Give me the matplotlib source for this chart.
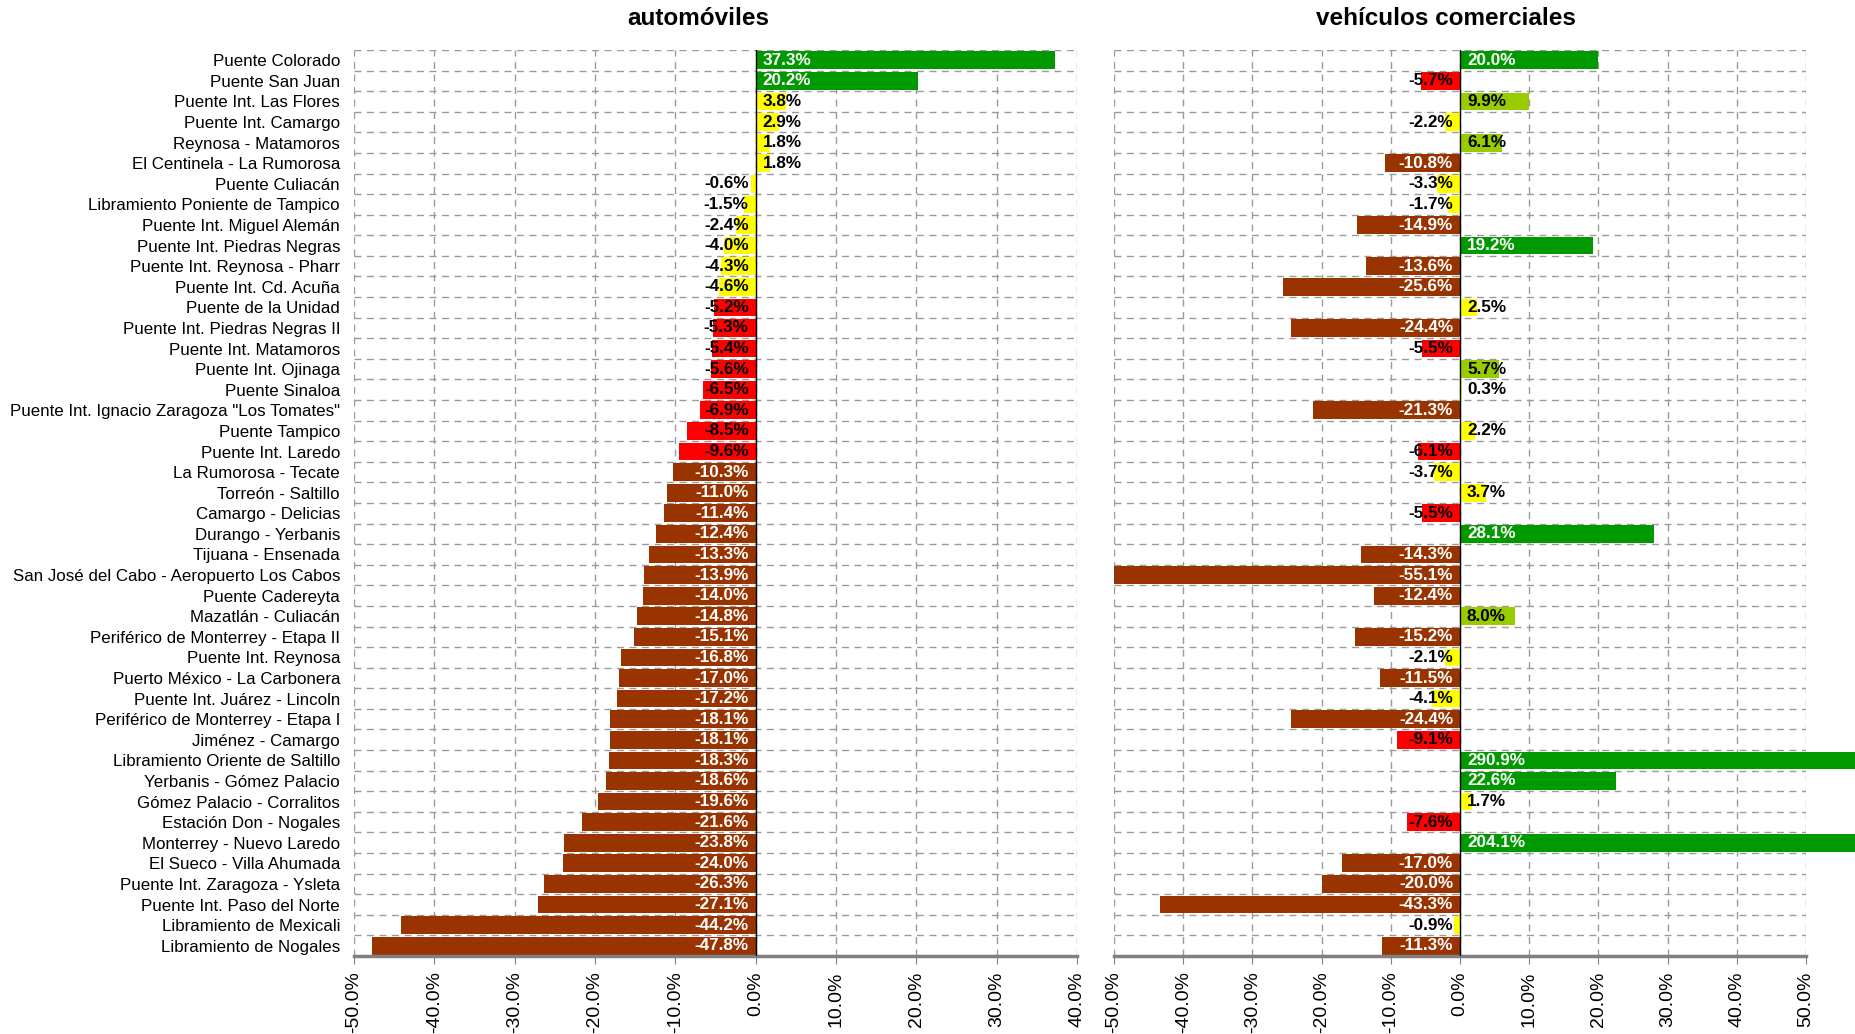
import matplotlib
matplotlib.use("Agg")
import matplotlib.pyplot as plt
from matplotlib.ticker import FixedLocator, FuncFormatter

plt.rcParams["font.family"] = ["Liberation Sans", "DejaVu Sans"]

# data: % change per plaza, top to bottom
plazas = [
    "Puente Colorado", "Puente San Juan", "Puente Int. Las Flores", "Puente Int. Camargo",
    "Reynosa - Matamoros", "El Centinela - La Rumorosa", "Puente Culiacán",
    "Libramiento Poniente de Tampico", "Puente Int. Miguel Alemán", "Puente Int. Piedras Negras",
    "Puente Int. Reynosa - Pharr", "Puente Int. Cd. Acuña", "Puente de la Unidad",
    "Puente Int. Piedras Negras II", "Puente Int. Matamoros", "Puente Int. Ojinaga",
    "Puente Sinaloa", "Puente Int. Ignacio Zaragoza \"Los Tomates\"", "Puente Tampico",
    "Puente Int. Laredo", "La Rumorosa - Tecate", "Torreón - Saltillo", "Camargo - Delicias",
    "Durango - Yerbanis", "Tijuana - Ensenada", "San José del Cabo - Aeropuerto Los Cabos",
    "Puente Cadereyta", "Mazatlán - Culiacán", "Periférico de Monterrey - Etapa II",
    "Puente Int. Reynosa", "Puerto México - La Carbonera", "Puente Int. Juárez - Lincoln",
    "Periférico de Monterrey - Etapa I", "Jiménez - Camargo", "Libramiento Oriente de Saltillo",
    "Yerbanis - Gómez Palacio", "Gómez Palacio - Corralitos", "Estación Don - Nogales",
    "Monterrey - Nuevo Laredo", "El Sueco - Villa Ahumada", "Puente Int. Zaragoza - Ysleta",
    "Puente Int. Paso del Norte", "Libramiento de Mexicali", "Libramiento de Nogales",
]
automoviles = [
    37.3, 20.2, 3.8, 2.9, 1.8, 1.8, -0.6, -1.5, -2.4, -4.0, -4.3, -4.6, -5.2, -5.3, -5.4,
    -5.6, -6.5, -6.9, -8.5, -9.6, -10.3, -11.0, -11.4, -12.4, -13.3, -13.9, -14.0, -14.8,
    -15.1, -16.8, -17.0, -17.2, -18.1, -18.1, -18.3, -18.6, -19.6, -21.6, -23.8, -24.0,
    -26.3, -27.1, -44.2, -47.8,
]
comerciales = [
    20.0, -5.7, 9.9, -2.2, 6.1, -10.8, -3.3, -1.7, -14.9, 19.2, -13.6, -25.6, 2.5, -24.4,
    -5.5, 5.7, 0.3, -21.3, 2.2, -6.1, -3.7, 3.7, -5.5, 28.1, -14.3, -55.1, -12.4, 8.0,
    -15.2, -2.1, -11.5, -4.1, -24.4, -9.1, 290.9, 22.6, 1.7, -7.6, 204.1, -17.0, -20.0,
    -43.3, -0.9, -11.3,
]
ticks_auto = [-50, -40, -30, -20, -10, 0, 10, 20, 30, 40]
ticks_com = [-50, -40, -30, -20, -10, 0, 10, 20, 30, 40, 50]


def bar_color(v):
    # (fill, text colour)
    if v >= 10:
        return "#009900", "white"
    if v >= 5:
        return "#99cc00", "black"
    if v > -5:
        return "#ffff00", "black"
    if v > -10:
        return "#ff0000", "black"
    return "#993300", "white"


def draw(ax, vals, ticks, title, tx):
    ys = list(range(len(vals)))
    for y, v in zip(ys, vals):
        fc, tc = bar_color(v)
        b = ax.barh(y, v, height=0.86, color=fc, zorder=2)
        if v > ticks[-1]:
            b[0].set_clip_on(False)
        if v >= 0:
            ax.annotate(f"{v:.1f}%", (0, y), xytext=(5, 0), textcoords="offset points",
                        ha="left", va="center", fontsize=12.3, fontweight="bold", color=tc, zorder=3)
        else:
            ax.annotate(f"{v:.1f}%", (0, y), xytext=(-5, 0), textcoords="offset points",
                        ha="right", va="center", fontsize=12.3, fontweight="bold", color=tc, zorder=3)
    ax.axvline(0, color="black", lw=1, zorder=3)
    ax.set_xlim(ticks[0], ticks[-1])
    ax.set_ylim(len(vals) - 0.5, -0.5)
    ax.xaxis.set_major_locator(FixedLocator(ticks))
    ax.xaxis.set_major_formatter(FuncFormatter(lambda x, p: f"{x:.1f}%"))
    ax.yaxis.set_minor_locator(FixedLocator([i - 0.5 for i in range(len(vals) + 1)]))
    ax.grid(True, axis="x", which="major", ls=(0, (5, 4)), color="#9a9a9a", lw=1, zorder=0)
    ax.grid(True, axis="y", which="minor", ls=(0, (5, 4)), color="#9a9a9a", lw=1, zorder=0)
    ax.tick_params(axis="y", which="both", length=0)
    ax.tick_params(axis="x", length=6, color="#808080", labelsize=14, labelrotation=90, pad=5)
    for s in ("top", "left", "right"):
        ax.spines[s].set_visible(False)
    ax.spines["bottom"].set_color("#808080")
    ax.spines["bottom"].set_linewidth(2.5)
    ax.figure.text(tx, 0.982, title, ha="center", va="center", fontsize=17.5, fontweight="bold")


fig = plt.figure(figsize=(18.56, 10.34), dpi=100)
ax1 = fig.add_axes([354 / 1856, 1 - 956 / 1034, 723 / 1856, 906 / 1034])
ax2 = fig.add_axes([1114 / 1856, 1 - 956 / 1034, 692 / 1856, 906 / 1034])

draw(ax1, automoviles, ticks_auto, "automóviles", 698 / 1856)
draw(ax2, comerciales, ticks_com, "vehículos comerciales", 1446 / 1856)

ax1.set_yticks(range(len(plazas)))
ax1.set_yticklabels(plazas, fontsize=12.2)
ax1.tick_params(axis="y", pad=10)
ax2.set_yticks(range(len(plazas)))
ax2.set_yticklabels([])

fig.savefig("out.png", dpi=100)
